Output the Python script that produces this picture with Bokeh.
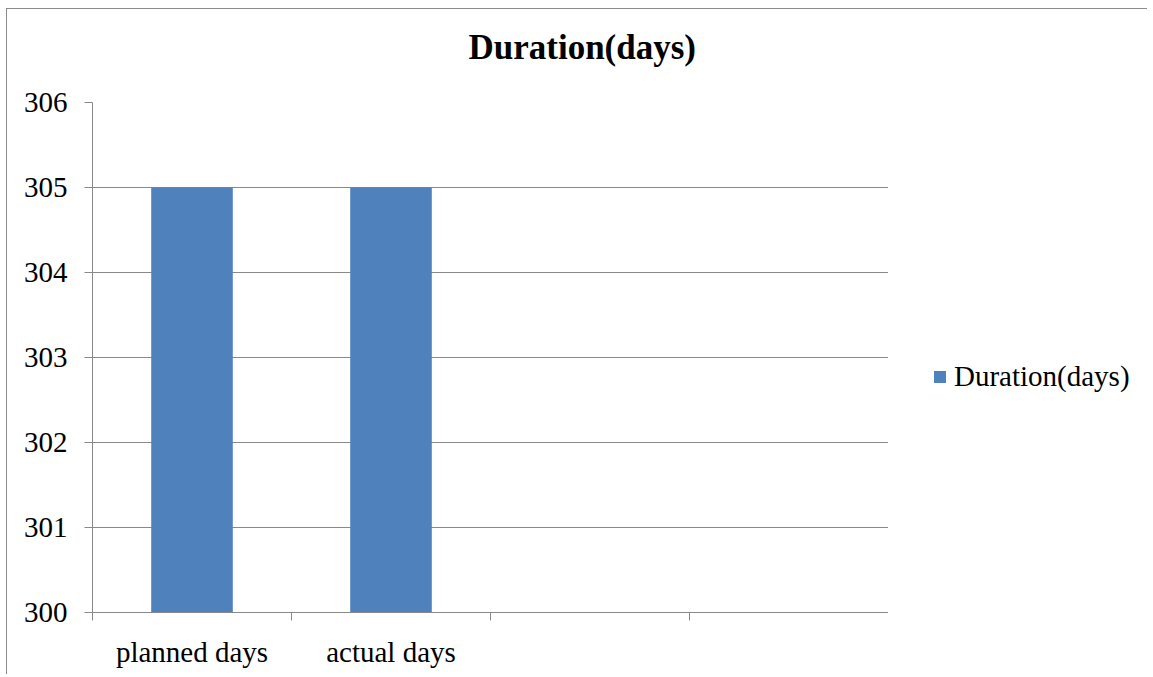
from bokeh.plotting import figure
from bokeh.models import Range1d, FixedTicker, Legend, LegendItem, Title
from bokeh.layouts import row
from bokeh.embed import file_html
from bokeh.resources import INLINE

# ---- data ----
categories = ["planned days", "actual days", "", ""]
durations = [305, 305, float("nan"), float("nan")]
series_name = "Duration(days)"
title_text = "Duration(days)"
y_ticks = [300, 301, 302, 303, 304, 305, 306]

FONT = "Liberation Serif"
GRID = "#898989"
BAR = "#4F81BD"
H = 665

xs = [i + 0.5 for i in range(len(categories))]

p = figure(width=881, height=H, output_backend="svg", toolbar_location=None,
           x_range=Range1d(0, len(categories)), y_range=Range1d(y_ticks[0], y_ticks[-1]),
           min_border_left=85, min_border_right=0, min_border_top=93, min_border_bottom=62)

# spacer between frame and title, then the title itself
p.add_layout(Title(text=" ", text_font_size="1px", standoff=28), "above")
p.add_layout(Title(text=title_text, text_font=FONT, text_font_size="35px", text_font_style="bold",
                   align="left", offset=376, standoff=10, text_color="black"), "above")

r = p.vbar(x=xs, top=durations, bottom=y_ticks[0], width=0.41, fill_color=BAR, line_color=None)

p.outline_line_color = None
p.background_fill_color = "white"
p.border_fill_color = "white"

# x axis
p.xaxis.ticker = FixedTicker(ticks=xs, minor_ticks=list(range(len(categories) + 1)))
p.xaxis.major_label_overrides = {x: c for x, c in zip(xs, categories)}
p.xaxis.major_tick_out = 0
p.xaxis.major_tick_in = 0
p.xaxis.minor_tick_out = 8
p.xaxis.minor_tick_in = 0
p.xaxis.minor_tick_line_color = GRID
p.xaxis.axis_line_color = GRID
p.xaxis.major_label_text_font = FONT
p.xaxis.major_label_text_font_size = "29px"
p.xaxis.major_label_text_color = "black"
p.xaxis.major_label_standoff = 15
p.xgrid.grid_line_color = None

# y axis
p.yaxis.ticker = FixedTicker(ticks=y_ticks)
p.yaxis.major_tick_out = 8
p.yaxis.major_tick_in = 0
p.yaxis.minor_tick_line_color = None
p.yaxis.major_tick_line_color = GRID
p.yaxis.axis_line_color = GRID
p.yaxis.major_label_text_font = FONT
p.yaxis.major_label_text_font_size = "29px"
p.yaxis.major_label_text_color = "black"
p.yaxis.major_label_standoff = 17
p.ygrid.grid_line_color = GRID
p.ygrid.grid_line_width = 1

# legend panel (separate figure to the right of the plot frame)
lp = figure(width=259, height=H, output_backend="svg", toolbar_location=None,
            x_range=Range1d(0, 1), y_range=Range1d(0, 1),
            min_border_left=0, min_border_right=0, min_border_top=0, min_border_bottom=0)
lp.axis.visible = False
lp.grid.grid_line_color = None
lp.outline_line_color = None
# hidden proxy renderer that only supplies the legend swatch
lr = lp.vbar(x=xs, top=durations, bottom=y_ticks[0], width=0.41,
             fill_color=BAR, line_color=None, visible=False)
legend = Legend(items=[LegendItem(label=series_name, renderers=[lr])],
                location=(44, 219), glyph_width=15, glyph_height=15, label_standoff=7,
                padding=0, spacing=0, margin=0, border_line_color=None,
                background_fill_alpha=0, inactive_fill_alpha=0,
                label_text_font=FONT, label_text_font_size="29px",
                label_text_color="black")
lp.add_layout(legend, "center")

layout = row(p, lp, spacing=0,
             styles={"margin-left": "6px", "margin-top": "8px",
                     "border-top": "1px solid #8c8c8c", "border-left": "1px solid #8c8c8c"})

open("out.html", "w").write(file_html(layout, INLINE))
